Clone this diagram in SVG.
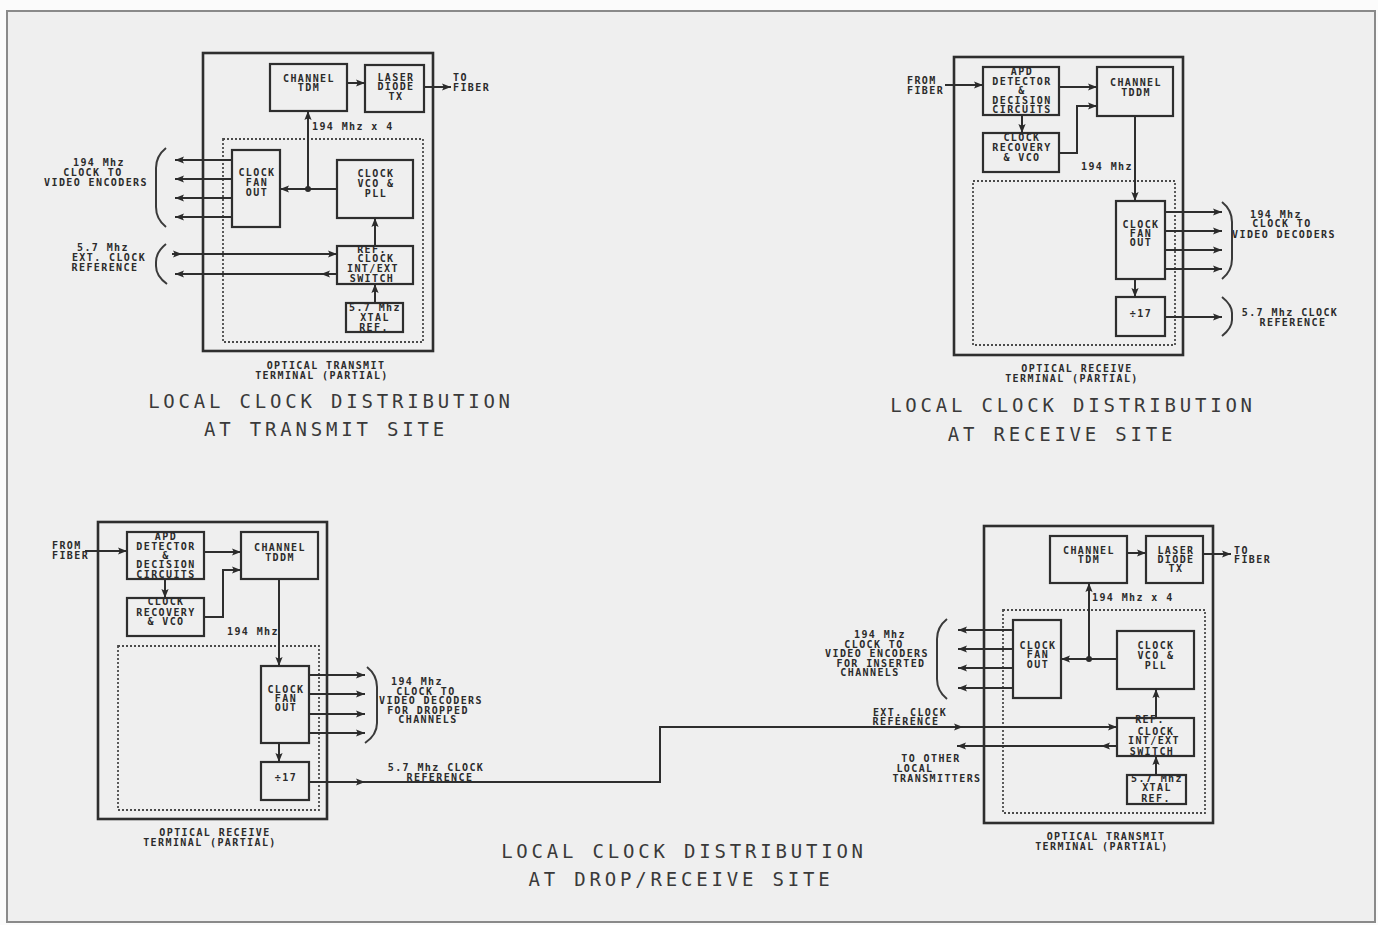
<svg xmlns="http://www.w3.org/2000/svg" width="1378" height="925" viewBox="0 0 1378 925">
<style>
.bg{fill:#efefef;stroke:#8a8a8a;stroke-width:2}
.ob{fill:none;stroke:#2e2e2e;stroke-width:2.6}
.db{fill:none;stroke:#4a4a4a;stroke-width:1.8;stroke-dasharray:2 2}
.bx{fill:none;stroke:#2e2e2e;stroke-width:2.2}
.ln{fill:none;stroke:#2e2e2e;stroke-width:2}
.br{fill:none;stroke:#3a3a3a;stroke-width:2}
.s{font-family:"DejaVu Sans Mono","Liberation Mono",monospace;font-weight:bold;font-size:10px;letter-spacing:1.4px;fill:#2b2b2b;text-anchor:middle}
.sl{font-family:"DejaVu Sans Mono","Liberation Mono",monospace;font-weight:bold;font-size:10px;letter-spacing:1.4px;fill:#2b2b2b;text-anchor:start}
.t{font-family:"DejaVu Sans Mono","Liberation Mono",monospace;font-size:19px;letter-spacing:3.8px;fill:#3a3a3a;text-anchor:middle}
</style>
<defs>
<marker id="ah" viewBox="0 0 10 10" refX="10" refY="5" markerWidth="9" markerHeight="9" markerUnits="userSpaceOnUse" orient="auto"><path d="M0,1 L10,5 L0,9 L2,5 z" fill="#2b2b2b"/></marker>
</defs>
<rect x="0" y="0" width="1378" height="925" fill="#fbfbfb"/>
<rect class="bg" x="7" y="11" width="1368" height="911"/>

<!-- ===== Transmit site ===== -->
<g id="tx-terminal">
<rect class="ob" x="203" y="53" width="230" height="298"/>
<rect class="db" x="223" y="139" width="200" height="203"/>
<text class="s" x="326" y="369">OPTICAL TRANSMIT</text>
<text class="s" x="322" y="379">TERMINAL (PARTIAL)</text>
</g>
<g id="tx-tdm"><rect class="bx" x="270" y="64" width="77" height="47"/><text class="s" x="309" y="82">CHANNEL</text><text class="s" x="309" y="91">TDM</text></g>
<g id="tx-laser"><rect class="bx" x="365" y="65" width="59" height="47"/><text class="s" x="396" y="81">LASER</text><text class="s" x="396" y="90">DIODE</text><text class="s" x="396" y="100">TX</text></g>
<g id="tx-fanout"><rect class="bx" x="232" y="150" width="48" height="77"/><text class="s" x="257" y="176">CLOCK</text><text class="s" x="257" y="186">FAN</text><text class="s" x="257" y="196">OUT</text></g>
<g id="tx-vco"><rect class="bx" x="337" y="160" width="76" height="58"/><text class="s" x="376" y="177">CLOCK</text><text class="s" x="376" y="187">VCO &amp;</text><text class="s" x="376" y="197">PLL</text></g>
<g id="tx-switch"><rect class="bx" x="337" y="246" width="76" height="38"/><text class="s" x="372" y="253">REF.</text><text class="s" x="376" y="262">CLOCK</text><text class="s" x="373" y="272">INT/EXT</text><text class="s" x="372" y="282">SWITCH</text></g>
<g id="tx-xtal"><rect class="bx" x="346" y="303" width="57" height="29"/><text class="s" x="375" y="311">5.7 Mhz</text><text class="s" x="375" y="321">XTAL</text><text class="s" x="374" y="331">REF.</text></g>
<g id="tx-labels">
<text class="sl" x="453" y="81">TO</text><text class="sl" x="453" y="91">FIBER</text>
<text class="sl" x="312" y="130">194 Mhz x 4</text>
<text class="s" x="99" y="166">194 Mhz</text><text class="s" x="93" y="176">CLOCK TO</text><text class="s" x="96" y="186">VIDEO ENCODERS</text>
<text class="s" x="103" y="251">5.7 Mhz</text><text class="s" x="109" y="261">EXT. CLOCK</text><text class="s" x="105" y="271">REFERENCE</text>
<path class="br" d="M166,148 Q156,156 156,168 L156,207 Q156,219 166,227"/>
<path class="br" d="M166,244 Q156,252 156,262 L156,266 Q156,276 167,284"/>
<text class="t" x="331" y="408">LOCAL CLOCK DISTRIBUTION</text>
<text class="t" x="326" y="436">AT TRANSMIT SITE</text>
</g>

<!-- ===== Receive site ===== -->
<g id="rx-terminal">
<rect class="ob" x="954" y="57" width="229" height="298"/>
<rect class="db" x="973" y="181" width="202" height="164"/>
<text class="s" x="1077" y="372">OPTICAL RECEIVE</text>
<text class="s" x="1072" y="382">TERMINAL (PARTIAL)</text>
</g>
<g id="rx-apd"><rect class="bx" x="983" y="67" width="76" height="48"/><text class="s" x="1022" y="75">APD</text><text class="s" x="1022" y="85">DETECTOR</text><text class="s" x="1022" y="94">&amp;</text><text class="s" x="1022" y="104">DECISION</text><text class="s" x="1022" y="113">CIRCUITS</text></g>
<g id="rx-recovery"><rect class="bx" x="983" y="133" width="76" height="39"/><text class="s" x="1022" y="141">CLOCK</text><text class="s" x="1022" y="151">RECOVERY</text><text class="s" x="1022" y="161">&amp; VCO</text></g>
<g id="rx-tddm"><rect class="bx" x="1097" y="67" width="76" height="49"/><text class="s" x="1136" y="86">CHANNEL</text><text class="s" x="1136" y="96">TDDM</text></g>
<g id="rx-fanout"><rect class="bx" x="1116" y="201" width="49" height="78"/><text class="s" x="1141" y="228">CLOCK</text><text class="s" x="1141" y="237">FAN</text><text class="s" x="1141" y="246">OUT</text></g>
<g id="rx-div"><rect class="bx" x="1116" y="297" width="49" height="39"/><text class="s" x="1141" y="317">÷17</text></g>
<g id="rx-labels">
<text class="sl" x="907" y="84">FROM</text><text class="sl" x="907" y="94">FIBER</text>
<text class="sl" x="1081" y="170">194 Mhz</text>
<text class="s" x="1276" y="218">194 Mhz</text><text class="s" x="1282" y="227">CLOCK TO</text><text class="s" x="1284" y="238">VIDEO DECODERS</text>
<text class="s" x="1290" y="316">5.7 Mhz CLOCK</text><text class="s" x="1293" y="326">REFERENCE</text>
<path class="br" d="M1222,202 Q1232,210 1232,222 L1232,259 Q1232,271 1222,279"/>
<path class="br" d="M1222,297 Q1232,305 1232,313 L1232,320 Q1232,328 1222,336"/>
<text class="t" x="1073" y="412">LOCAL CLOCK DISTRIBUTION</text>
<text class="t" x="1062" y="441">AT RECEIVE SITE</text>
</g>

<!-- ===== Drop/receive site: receive terminal ===== -->
<g id="drx-terminal">
<rect class="ob" x="98" y="522" width="229" height="297"/>
<rect class="db" x="118" y="646" width="201" height="164"/>
<text class="s" x="215" y="836">OPTICAL RECEIVE</text>
<text class="s" x="210" y="846">TERMINAL (PARTIAL)</text>
</g>
<g id="drx-apd"><rect class="bx" x="127" y="532" width="77" height="47"/><text class="s" x="166" y="540">APD</text><text class="s" x="166" y="550">DETECTOR</text><text class="s" x="166" y="559">&amp;</text><text class="s" x="166" y="568">DECISION</text><text class="s" x="166" y="578">CIRCUITS</text></g>
<g id="drx-recovery"><rect class="bx" x="127" y="598" width="77" height="38"/><text class="s" x="166" y="605">CLOCK</text><text class="s" x="166" y="616">RECOVERY</text><text class="s" x="166" y="625">&amp; VCO</text></g>
<g id="drx-tddm"><rect class="bx" x="241" y="532" width="77" height="47"/><text class="s" x="280" y="551">CHANNEL</text><text class="s" x="280" y="561">TDDM</text></g>
<g id="drx-fanout"><rect class="bx" x="261" y="666" width="48" height="77"/><text class="s" x="286" y="693">CLOCK</text><text class="s" x="286" y="702">FAN</text><text class="s" x="286" y="711">OUT</text></g>
<g id="drx-div"><rect class="bx" x="261" y="762" width="48" height="38"/><text class="s" x="286" y="781">÷17</text></g>
<g id="drx-labels">
<text class="sl" x="52" y="549">FROM</text><text class="sl" x="52" y="559">FIBER</text>
<text class="sl" x="227" y="635">194 Mhz</text>
<text class="s" x="417" y="685">194 Mhz</text><text class="s" x="426" y="695">CLOCK TO</text><text class="s" x="431" y="704">VIDEO DECODERS</text><text class="s" x="428" y="714">FOR DROPPED</text><text class="s" x="428" y="723">CHANNELS</text>
<text class="s" x="436" y="771">5.7 Mhz CLOCK</text><text class="s" x="440" y="781">REFERENCE</text>
<path class="br" d="M367,667 Q377,675 377,687 L377,723 Q377,735 365,743"/>
</g>

<!-- ===== Drop/receive site: transmit terminal ===== -->
<g id="dtx-terminal">
<rect class="ob" x="984" y="526" width="229" height="297"/>
<rect class="db" x="1003" y="610" width="202" height="203"/>
<text class="s" x="1106" y="840">OPTICAL TRANSMIT</text>
<text class="s" x="1102" y="850">TERMINAL (PARTIAL)</text>
</g>
<g id="dtx-tdm"><rect class="bx" x="1050" y="536" width="77" height="47"/><text class="s" x="1089" y="554">CHANNEL</text><text class="s" x="1089" y="563">TDM</text></g>
<g id="dtx-laser"><rect class="bx" x="1146" y="536" width="57" height="47"/><text class="s" x="1176" y="554">LASER</text><text class="s" x="1176" y="563">DIODE</text><text class="s" x="1176" y="572">TX</text></g>
<g id="dtx-fanout"><rect class="bx" x="1013" y="620" width="48" height="78"/><text class="s" x="1038" y="649">CLOCK</text><text class="s" x="1038" y="658">FAN</text><text class="s" x="1038" y="668">OUT</text></g>
<g id="dtx-vco"><rect class="bx" x="1117" y="631" width="77" height="58"/><text class="s" x="1156" y="649">CLOCK</text><text class="s" x="1156" y="659">VCO &amp;</text><text class="s" x="1156" y="669">PLL</text></g>
<g id="dtx-switch"><rect class="bx" x="1117" y="718" width="77" height="38"/><text class="s" x="1150" y="723">REF.</text><text class="s" x="1156" y="735">CLOCK</text><text class="s" x="1154" y="744">INT/EXT</text><text class="s" x="1152" y="755">SWITCH</text></g>
<g id="dtx-xtal"><rect class="bx" x="1127" y="775" width="59" height="29"/><text class="s" x="1157" y="782">5.7 Mhz</text><text class="s" x="1157" y="791">XTAL</text><text class="s" x="1156" y="802">REF.</text></g>
<g id="dtx-labels">
<text class="sl" x="1234" y="554">TO</text><text class="sl" x="1234" y="563">FIBER</text>
<text class="sl" x="1092" y="601">194 Mhz x 4</text>
<text class="s" x="880" y="638">194 Mhz</text><text class="s" x="874" y="648">CLOCK TO</text><text class="s" x="877" y="657">VIDEO ENCODERS</text><text class="s" x="881" y="667">FOR INSERTED</text><text class="s" x="870" y="676">CHANNELS</text>
<text class="s" x="910" y="716">EXT. CLOCK</text><text class="s" x="906" y="725">REFERENCE</text>
<text class="s" x="931" y="762">TO OTHER</text><text class="s" x="915" y="772">LOCAL</text><text class="s" x="937" y="782">TRANSMITTERS</text>
<path class="br" d="M947,619 Q937,627 937,639 L937,679 Q937,691 947,699"/>
</g>
<g id="drop-title">
<text class="t" x="684" y="858">LOCAL CLOCK DISTRIBUTION</text>
<text class="t" x="681" y="886">AT DROP/RECEIVE SITE</text>
</g>

<!-- ===== Connectors ===== -->
<g id="connectors" class="ln" marker-end="url(#ah)">
<!-- transmit site -->
<path d="M347,83 L365,83"/>
<path d="M424,87 L451,87"/>
<path d="M337,189 L280,189"/>
<path d="M308,189 L308,111"/>
<path d="M375,246 L375,218"/>
<path d="M375,303 L375,284"/>
<path d="M232,160 L175,160"/>
<path d="M232,179 L175,179"/>
<path d="M232,198 L175,198"/>
<path d="M232,217 L175,217"/>
<path d="M172,254 L182,254"/>
<path d="M182,254 L337,254"/>
<path d="M337,274 L321,274"/>
<path d="M321,274 L175,274"/>
<!-- receive site -->
<path d="M945,85 L983,85"/>
<path d="M1059,87 L1097,87"/>
<path d="M1022,115 L1022,133"/>
<path d="M1059,153 L1077,153 L1077,106 L1097,106"/>
<path d="M1135,116 L1135,201"/>
<path d="M1135,279 L1135,297"/>
<path d="M1165,212 L1222,212"/>
<path d="M1165,231 L1222,231"/>
<path d="M1165,250 L1222,250"/>
<path d="M1165,269 L1222,269"/>
<path d="M1165,317 L1222,317"/>
<!-- drop site receive -->
<path d="M85,551 L127,551"/>
<path d="M204,552 L241,552"/>
<path d="M165,579 L165,598"/>
<path d="M204,617 L223,617 L223,570 L241,570"/>
<path d="M279,579 L279,666"/>
<path d="M279,743 L279,762"/>
<path d="M309,675 L365,675"/>
<path d="M309,694 L365,694"/>
<path d="M309,714 L365,714"/>
<path d="M309,733 L365,733"/>
<path d="M309,782 L365,782"/>
<path d="M365,782 L660,782 L660,727 L963,727"/>
<path d="M963,727 L1117,727"/>
<!-- drop site transmit -->
<path d="M1127,553 L1146,553"/>
<path d="M1203,554 L1231,554"/>
<path d="M1117,659 L1061,659"/>
<path d="M1089,659 L1089,583"/>
<path d="M1156,718 L1156,689"/>
<path d="M1156,775 L1156,756"/>
<path d="M1013,630 L958,630"/>
<path d="M1013,649 L958,649"/>
<path d="M1013,668 L958,668"/>
<path d="M1013,688 L958,688"/>
<path d="M1117,746 L1101,746"/>
<path d="M1101,746 L957,746"/>
</g>
<g id="junctions" fill="#2b2b2b">
<circle cx="308" cy="189" r="3"/>
<circle cx="1089" cy="659" r="3"/>
</g>
</svg>
